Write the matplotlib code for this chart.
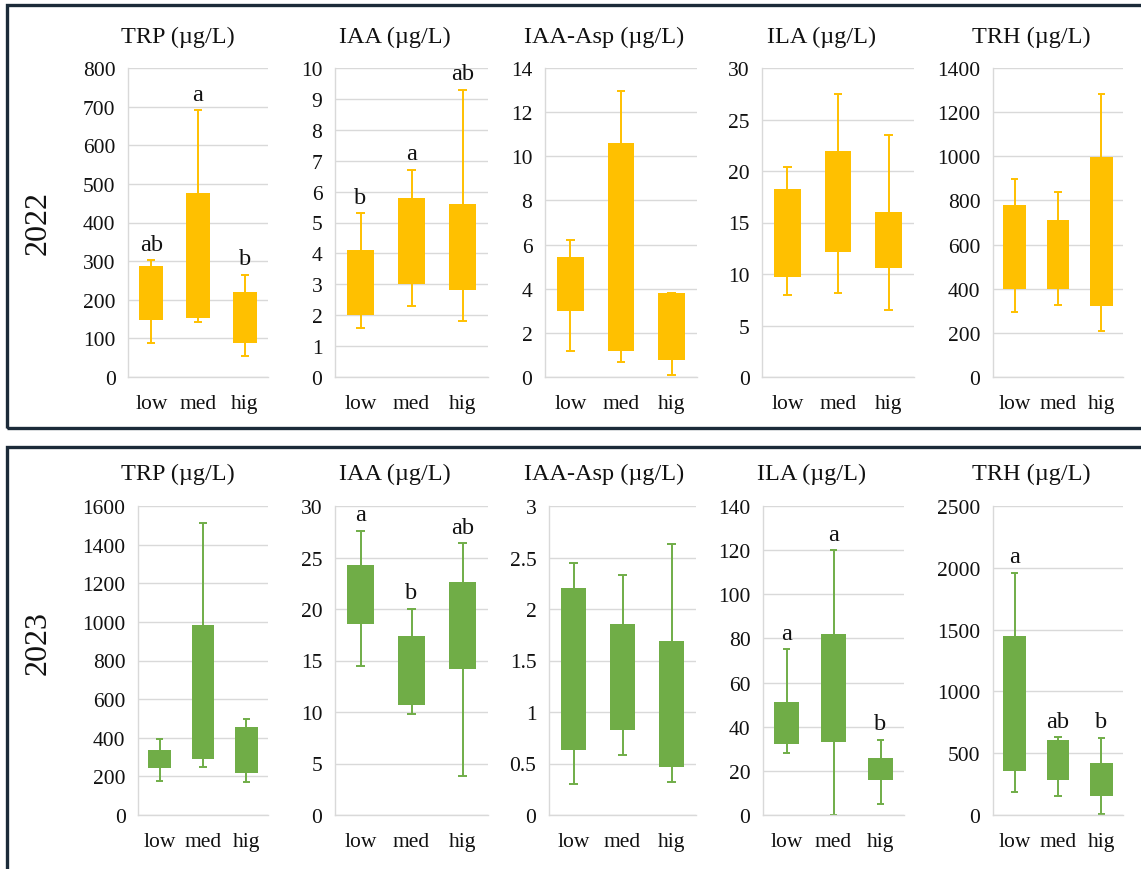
import matplotlib
matplotlib.use("Agg")
import matplotlib.pyplot as plt
from matplotlib.patches import Rectangle
import numpy as np

plt.rcParams['font.family'] = ['Liberation Serif', 'DejaVu Serif']

W, H = 1141, 870

categories = ["low", "med", "hig"]
titles = ["TRP (µg/L)", "IAA (µg/L)", "IAA-Asp (µg/L)", "ILA (µg/L)", "TRH (µg/L)"]
years = ["2022", "2023"]

# each panel: [whisker min], [Q1], [Q3], [whisker max] for low, med, hig
trp_2022_min = [87, 143, 55]
trp_2022_q1 = [148, 153, 88]
trp_2022_q3 = [287, 477, 220]
trp_2022_max = [302, 690, 264]
trp_2022_letters = ["ab", "a", "b"]

iaa_2022_min = [1.6, 2.3, 1.8]
iaa_2022_q1 = [2.0, 3.0, 2.8]
iaa_2022_q3 = [4.1, 5.8, 5.6]
iaa_2022_max = [5.3, 6.7, 9.3]
iaa_2022_letters = ["b", "a", "ab"]

asp_2022_min = [1.2, 0.7, 0.1]
asp_2022_q1 = [3.0, 1.2, 0.75]
asp_2022_q3 = [5.45, 10.6, 3.8]
asp_2022_max = [6.2, 12.95, 3.8]
asp_2022_letters = ["", "", ""]

ila_2022_min = [8.0, 8.2, 6.5]
ila_2022_q1 = [9.7, 12.1, 10.6]
ila_2022_q3 = [18.3, 21.9, 16.0]
ila_2022_max = [20.4, 27.5, 23.5]
ila_2022_letters = ["", "", ""]

trh_2022_min = [295, 325, 210]
trh_2022_q1 = [400, 400, 320]
trh_2022_q3 = [780, 710, 995]
trh_2022_max = [895, 840, 1280]
trh_2022_letters = ["", "", ""]

trp_2023_min = [175, 250, 170]
trp_2023_q1 = [245, 290, 220]
trp_2023_q3 = [335, 985, 455]
trp_2023_max = [395, 1510, 495]
trp_2023_letters = ["", "", ""]

iaa_2023_min = [14.5, 9.8, 3.8]
iaa_2023_q1 = [18.5, 10.7, 14.2]
iaa_2023_q3 = [24.3, 17.4, 22.6]
iaa_2023_max = [27.6, 20.0, 26.4]
iaa_2023_letters = ["a", "b", "ab"]

asp_2023_min = [0.30, 0.58, 0.32]
asp_2023_q1 = [0.63, 0.83, 0.47]
asp_2023_q3 = [2.20, 1.85, 1.69]
asp_2023_max = [2.45, 2.33, 2.63]
asp_2023_letters = ["", "", ""]

ila_2023_min = [28, 0, 5]
ila_2023_q1 = [32, 33, 16]
ila_2023_q3 = [51, 82, 26]
ila_2023_max = [75, 120, 34]
ila_2023_letters = ["a", "a", "b"]

trh_2023_min = [185, 150, 5]
trh_2023_q1 = [355, 280, 150]
trh_2023_q3 = [1450, 610, 420]
trh_2023_max = [1960, 630, 625]
trh_2023_letters = ["a", "ab", "b"]

yticks_2022 = [np.arange(0, 801, 100), np.arange(0, 11, 1), np.arange(0, 15, 2),
               np.arange(0, 31, 5), np.arange(0, 1401, 200)]
yticks_2023 = [np.arange(0, 1601, 200), np.arange(0, 31, 5), np.arange(0, 3.01, 0.5),
               np.arange(0, 141, 20), np.arange(0, 2501, 500)]

row_data = [
    [(trp_2022_min, trp_2022_q1, trp_2022_q3, trp_2022_max, trp_2022_letters),
     (iaa_2022_min, iaa_2022_q1, iaa_2022_q3, iaa_2022_max, iaa_2022_letters),
     (asp_2022_min, asp_2022_q1, asp_2022_q3, asp_2022_max, asp_2022_letters),
     (ila_2022_min, ila_2022_q1, ila_2022_q3, ila_2022_max, ila_2022_letters),
     (trh_2022_min, trh_2022_q1, trh_2022_q3, trh_2022_max, trh_2022_letters)],
    [(trp_2023_min, trp_2023_q1, trp_2023_q3, trp_2023_max, trp_2023_letters),
     (iaa_2023_min, iaa_2023_q1, iaa_2023_q3, iaa_2023_max, iaa_2023_letters),
     (asp_2023_min, asp_2023_q1, asp_2023_q3, asp_2023_max, asp_2023_letters),
     (ila_2023_min, ila_2023_q1, ila_2023_q3, ila_2023_max, ila_2023_letters),
     (trh_2023_min, trh_2023_q1, trh_2023_q3, trh_2023_max, trh_2023_letters)],
]
row_ticks = [yticks_2022, yticks_2023]
row_colors = ["#FFC000", "#70AD47"]

# layout in pixels
row_tops = [69, 507]
row_bottoms = [378, 816]
col_spans = [
    [(128, 268), (335, 488), (545, 697), (762, 914), (993, 1123)],
    [(138, 268), (335, 488), (549, 696), (763, 904), (993, 1123)],
]
title_x = [[178, 395, 604, 822, 1031], [178, 395, 604, 812, 1031]]
title_y = [37, 474]
year_y = [223, 643]

fig = plt.figure(figsize=(W / 100, H / 100), dpi=100)

# row frames
for (y0, y1) in [(6, 429), (448, 880)]:
    fig.patches.append(Rectangle((7 / W, 1 - y1 / H), (W + 20 - 7) / W, (y1 - y0) / H,
                                 transform=fig.transFigure, fill=False,
                                 edgecolor="#1C2B39", linewidth=2.4, zorder=0))

grid_c = "#D9D9D9"
x = np.arange(len(categories))
for r in range(2):
    color = row_colors[r]
    for c in range(5):
        l, rr = col_spans[r][c]
        t, b = row_tops[r], row_bottoms[r]
        ax = fig.add_axes([l / W, 1 - b / H, (rr - l) / W, (b - t) / H])
        wmin, q1, q3, wmax, letters = row_data[r][c]
        wmin, q1, q3, wmax = map(np.asarray, (wmin, q1, q3, wmax))
        ticks = row_ticks[r][c]
        ax.set_xlim(-0.5, 2.5)
        ax.set_ylim(ticks[0], ticks[-1])
        ax.set_yticks(ticks)
        ax.set_yticklabels(["%g" % v for v in ticks])
        ax.grid(axis="y", color=grid_c, linewidth=1.0, zorder=0)
        ax.set_axisbelow(True)
        for s in ["top", "right"]:
            ax.spines[s].set_visible(False)
        for s in ["left", "bottom"]:
            ax.spines[s].set_color(grid_c)
            ax.spines[s].set_linewidth(1.0)
        ax.tick_params(axis="both", length=0, labelsize=15.5, colors="#111111")
        ax.tick_params(axis="y", pad=9)
        ax.tick_params(axis="x", pad=12)
        ax.set_xticks(x)
        ax.set_xticklabels(categories)
        # whiskers
        ax.vlines(x, wmin, q1, color=color, linewidth=1.4, zorder=2)
        ax.vlines(x, q3, wmax, color=color, linewidth=1.4, zorder=2)
        ax.hlines(wmin, x - 0.085, x + 0.085, color=color, linewidth=1.4, zorder=2)
        ax.hlines(wmax, x - 0.085, x + 0.085, color=color, linewidth=1.4, zorder=2)
        # boxes
        ax.bar(x, q3 - q1, bottom=q1, width=0.52, color=color, edgecolor="none", zorder=3)
        for i, lab in enumerate(letters):
            if lab:
                ax.annotate(lab, (x[i], wmax[i]), xytext=(0, 4), textcoords="offset points",
                            ha="center", va="bottom", fontsize=17.5, color="#111111",
                            annotation_clip=False)
        fig.text(title_x[r][c] / W, 1 - title_y[r] / H, titles[c], ha="center", va="center",
                 fontsize=17.5, color="#111111")
    fig.text(38 / W, 1 - year_y[r] / H, years[r], rotation=90, ha="center", va="center",
             fontsize=23, color="#111111")

fig.savefig("out.png", dpi=100, facecolor="white")
